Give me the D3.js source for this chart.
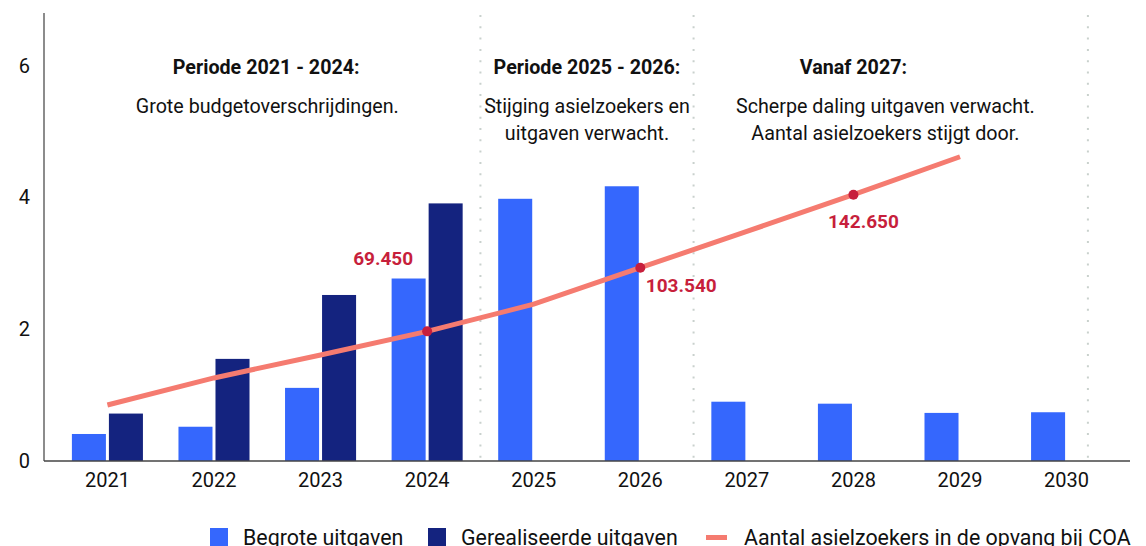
<!DOCTYPE html>
<html lang="nl">
<head>
<meta charset="UTF-8">
<title>Asielopvang uitgaven</title>
<style>
    body{margin:0;background:#fff;}
    svg{display:block;font-family:Roboto,"Noto Sans",sans-serif;}
</style>
</head>
<body>
<svg width="1146" height="546"></svg>
<script src="https://d3js.org/d3.v7.min.js"></script>
<script>
// data
var years = [2021,2022,2023,2024,2025,2026,2027,2028,2029,2030];
var begroot = [0.41,0.52,1.11,2.77,3.98,4.17,0.90,0.87,0.73,0.74];
var gerealiseerd = [0.72,1.55,2.52,3.91,null,null,null,null,null,null];
var asielYears = [2021,2022,2023,2024,2025,2026,2027,2028,2029];
var asiel = [30000,44500,56800,69450,84000,103540,123000,142650,163000];
var asielLabels = [2024,2026,2028];
var yTicks = [0,2,4,6];
var seriesNames = ["Begrote uitgaven","Gerealiseerde uitgaven"];
var lineName = "Aantal asielzoekers in de opvang bij COA";
var periodLines = [2024.5,2026.5,2030.2];
var periods = [
    {title:"Periode 2021 - 2024:", body:["Grote budgetoverschrijdingen."], tx:2022.49, bx:2022.5},
    {title:"Periode 2025 - 2026:", body:["Stijging asielzoekers en","uitgaven verwacht."], tx:2025.5, bx:2025.5},
    {title:"Vanaf 2027:", body:["Scherpe daling uitgaven verwacht.","Aantal asielzoekers stijgt door."], tx:2028.0, bx:2028.3}
];

var blue = "#3567fd", navy = "#14237f", salmon = "#f57b70", crimson = "#c71f3c";

var svg = d3.select("svg");
var mLeft = 44, mRight = 1130, mTop = 13, base = 461;

var x = d3.scaleBand().domain(years).range([mLeft,mRight]).paddingInner(0).paddingOuter(0.095);
var xs = d3.scaleBand().domain(seriesNames).range([0,x.bandwidth()]).paddingInner(0.081).paddingOuter(0.48);
// fractional-year position (band centres)
var xl = d3.scaleLinear().domain([2021,2030]).range([x(2021)+x.bandwidth()/2, x(2030)+x.bandwidth()/2]);
var y = d3.scaleLinear().domain([0,6.8]).range([base,mTop]);
var y2 = d3.scaleLinear().domain([0,240000]).range([base,mTop]);

// period separators
svg.append("g").selectAll("line").data(periodLines).join("line")
    .attr("x1",d=>xl(d)).attr("x2",d=>xl(d)).attr("y1",mTop+2).attr("y2",base)
    .attr("stroke","#c9d1cd").attr("stroke-width",2).attr("stroke-dasharray","2,9.3");

// bars
var rows = years.map((yr,i)=>({year:yr, vals:[begroot[i],gerealiseerd[i]]}));
var grp = svg.append("g").selectAll("g").data(rows).join("g")
    .attr("transform",d=>"translate("+x(d.year)+",0)");
grp.selectAll("rect").data(d=>d.vals.map((v,j)=>({k:seriesNames[j],v:v,j:j})).filter(d=>d.v!=null)).join("rect")
    .attr("x",d=>xs(d.k)).attr("width",xs.bandwidth())
    .attr("y",d=>y(d.v)).attr("height",d=>base-y(d.v))
    .attr("fill",d=>d.j==0?blue:navy);

// axes
var yAxis = d3.axisLeft(y).tickValues(yTicks).tickSize(0).tickPadding(14).tickFormat(d3.format("d"));
var gy = svg.append("g").attr("transform","translate("+mLeft+",0)").call(yAxis);
gy.select(".domain").attr("stroke","#666").attr("stroke-width",1.5).attr("d","M0,"+mTop+"V"+base);
gy.selectAll("text").attr("font-size",20).attr("fill","#111").attr("font-family","Roboto");

var xAxis = d3.axisBottom(x).tickSize(0).tickPadding(12);
var gx = svg.append("g").attr("transform","translate(0,"+base+")").call(xAxis);
gx.select(".domain").attr("stroke","#444").attr("stroke-width",1.5).attr("d","M"+mLeft+",0H"+mRight);
gx.selectAll("text").attr("font-size",20).attr("fill","#111").attr("font-family","Roboto");

// line
var pts = asielYears.map((yr,i)=>({year:yr,v:asiel[i]}));
var line = d3.line().x(d=>xl(d.year)).y(d=>y2(d.v));
svg.append("path").datum(pts).attr("d",line).attr("fill","none")
    .attr("stroke",salmon).attr("stroke-width",5);

var lab = pts.filter(d=>asielLabels.indexOf(d.year)>=0);
svg.append("g").selectAll("circle").data(lab).join("circle")
    .attr("cx",d=>xl(d.year)).attr("cy",d=>y2(d.v)).attr("r",5).attr("fill",crimson);
var off = {2024:[-44,-66],2026:[41,24],2028:[10,33]};
svg.append("g").selectAll("text").data(lab).join("text")
    .attr("x",d=>xl(d.year)+off[d.year][0]).attr("y",d=>y2(d.v)+off[d.year][1])
    .attr("text-anchor","middle").attr("font-size",19).attr("font-weight","bold").attr("fill",crimson)
    .text(d=>d3.format(",")(d.v).replace(/,/g,"."));

// period notes
var notes = svg.append("g").selectAll("g").data(periods).join("g");
notes.append("text").attr("x",d=>xl(d.tx)).attr("y",74).attr("text-anchor","middle")
    .attr("font-size",19.7).attr("font-weight","bold").attr("fill","#111").text(d=>d.title);
notes.each(function(d){
    d3.select(this).selectAll("text.b").data(d.body).join("text").attr("class","b")
        .attr("x",xl(d.bx)).attr("y",(t,i)=>113+i*27).attr("text-anchor","middle")
        .attr("font-size",19.7).attr("fill","#111").text(t=>t);
});

// legend
var leg = svg.append("g").attr("transform","translate(210,528)");
var items = [{n:seriesNames[0],c:blue,t:"rect",x:0},{n:seriesNames[1],c:navy,t:"rect",x:218},{n:lineName,c:salmon,t:"line",x:496}];
items.forEach(function(it){
    var g = leg.append("g").attr("transform","translate("+it.x+",0)");
    if(it.t=="rect") g.append("rect").attr("width",18).attr("height",18).attr("fill",it.c);
    else g.append("rect").attr("y",7).attr("width",21).attr("height",5).attr("fill",it.c);
    g.append("text").attr("x",it.t=="rect"?33:38).attr("y",17).attr("font-size",21.4).attr("fill","#111").text(it.n);
});
</script>
</body>
</html>
